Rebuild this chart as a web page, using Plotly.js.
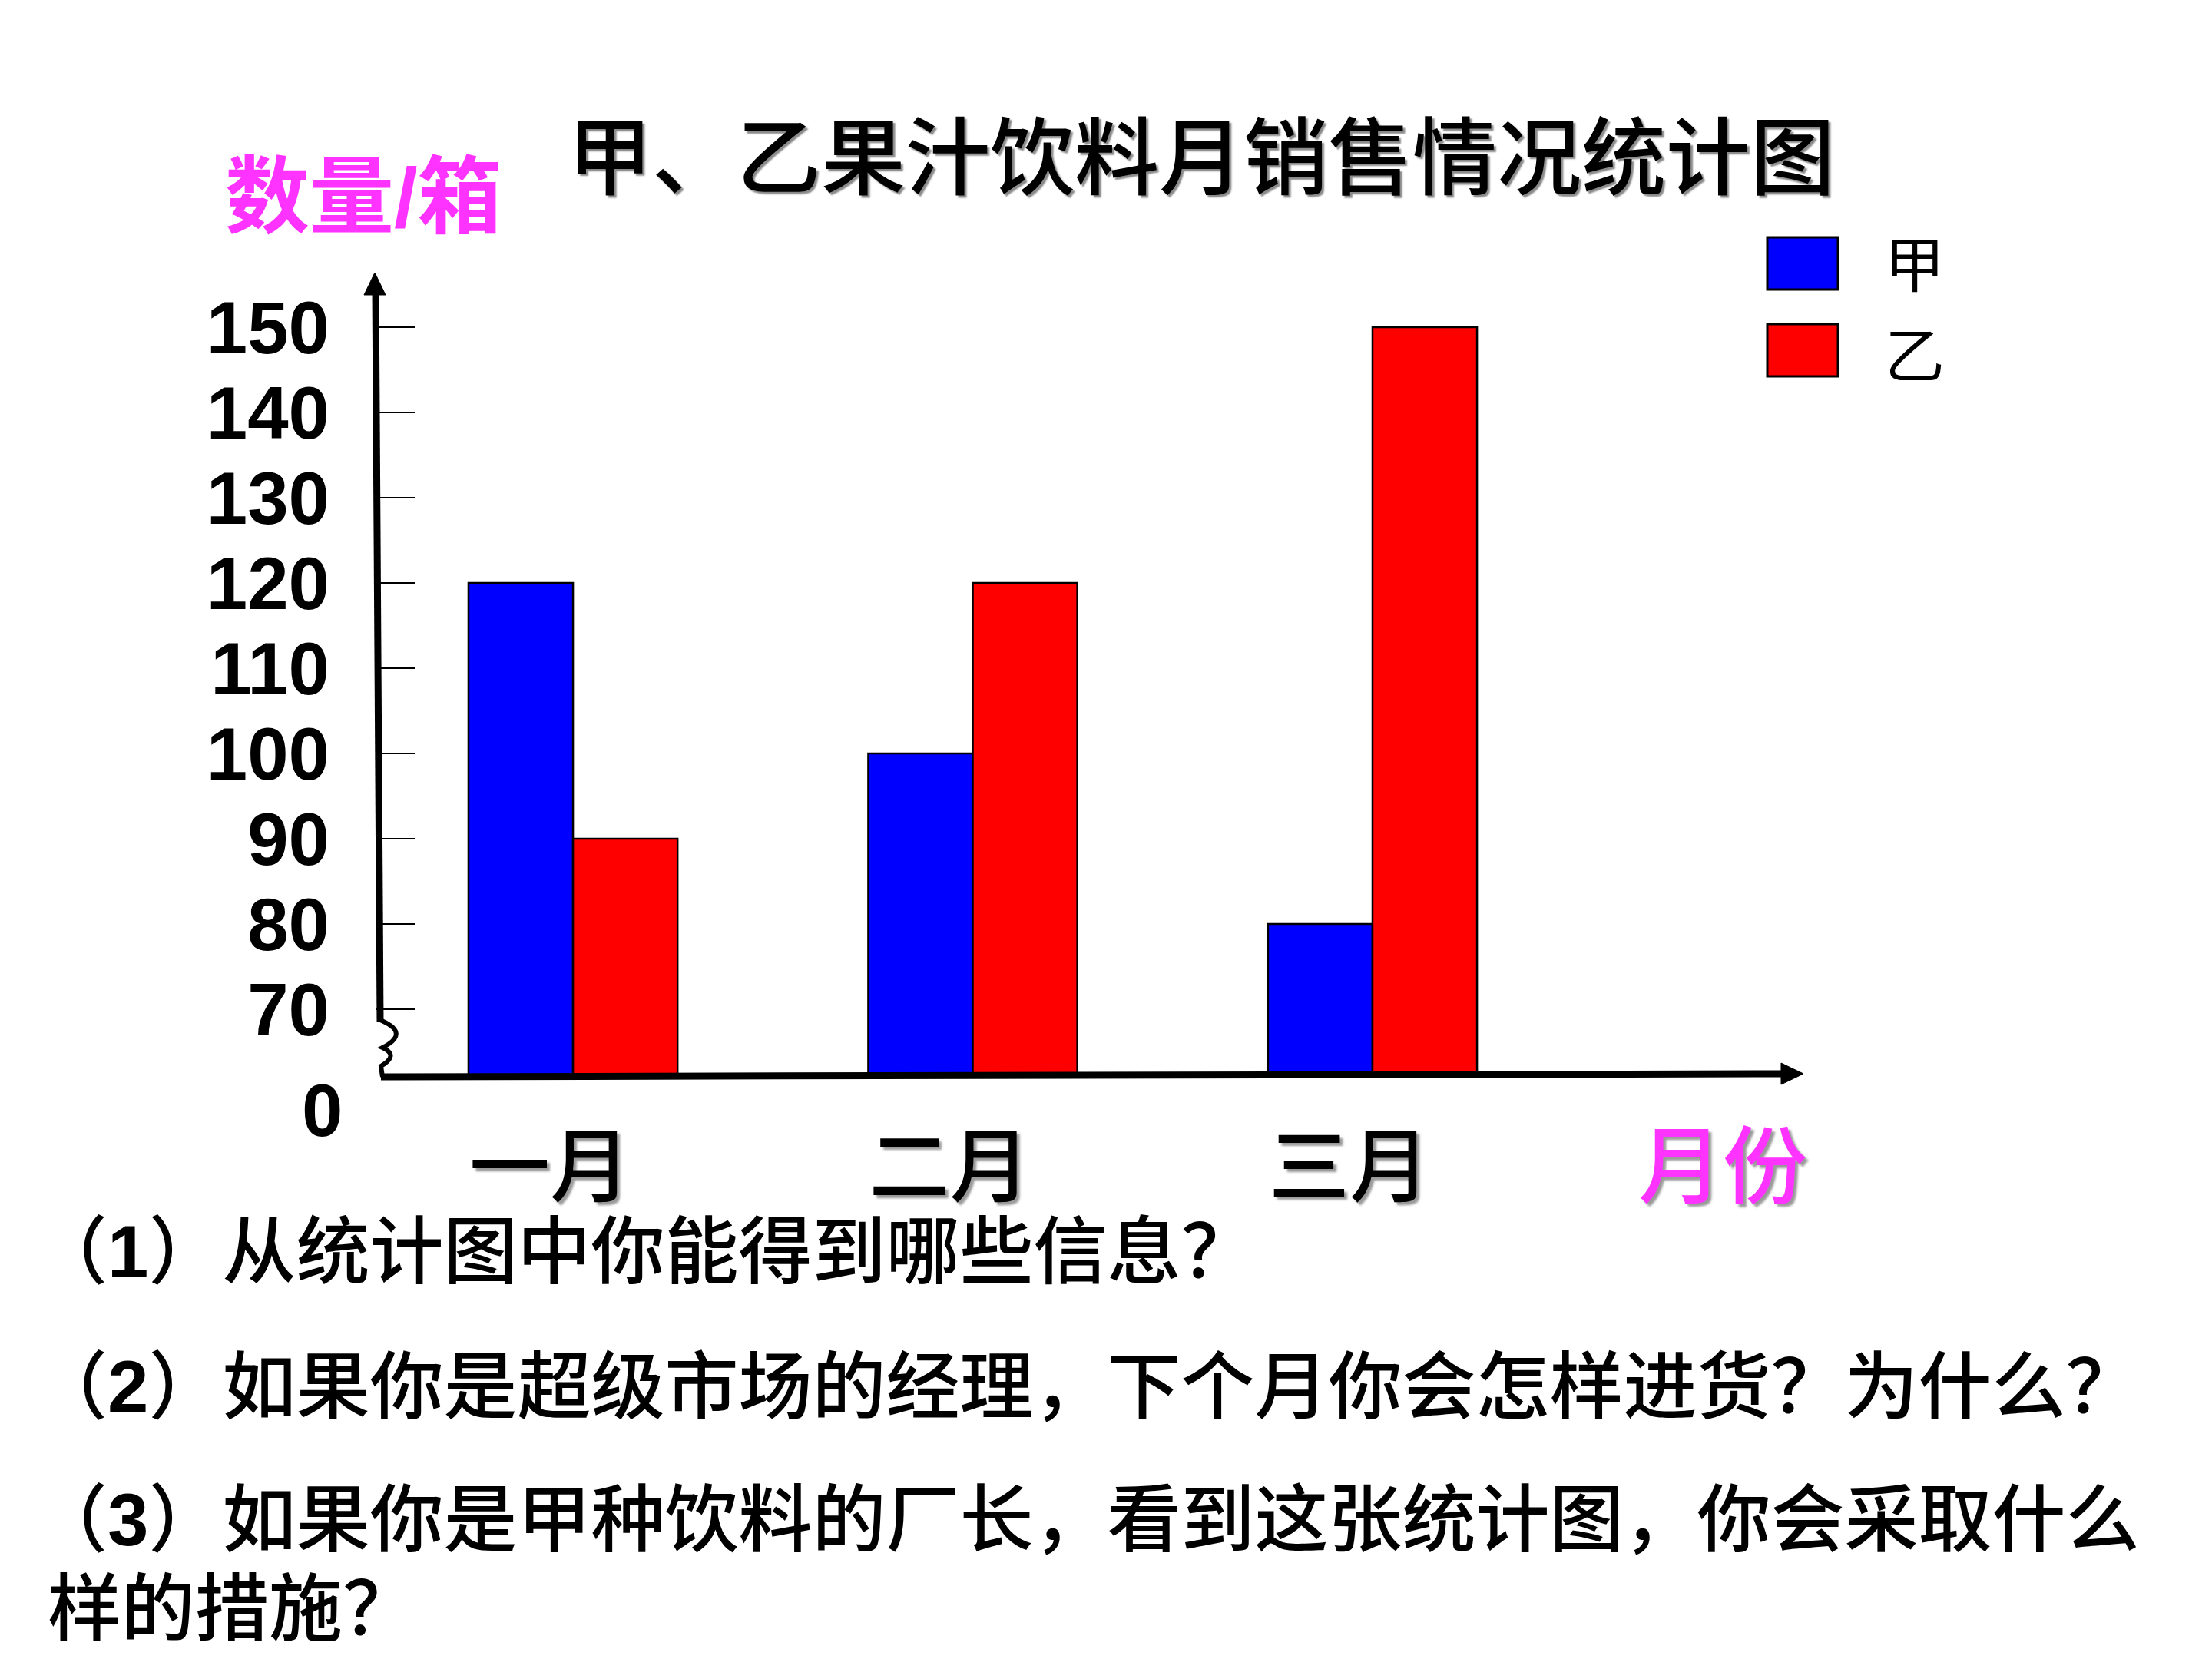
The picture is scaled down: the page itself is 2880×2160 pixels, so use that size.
<!DOCTYPE html>
<html>
<head>
<meta charset="utf-8">
<script src="https://cdn.plot.ly/plotly-3.0.1.min.js"></script>
<style>html,body{margin:0;padding:0;background:#ffffff;}</style>
</head>
<body>
<div id="chart" style="width:2880px;height:2160px;"></div>
<script>
// ---- data ----
const months = ['一月', '二月', '三月'];
const seriesNames = ['甲', '乙'];
const valuesJia = [120, 100, 80];
const valuesYi = [90, 120, 150];
const seriesColors = ['#0000ff', '#ff0000'];
const yTickVals = [70, 80, 90, 100, 110, 120, 130, 140, 150];
const yBreakLabel = '0';
const chartTitle = '甲、乙果汁饮料月销售情况统计图';
const yAxisLabel = '数量/箱';
const xAxisLabel = '月份';
const questions = [
  '（<b>1</b>）从统计图中你能得到哪些信息？',
  '（<b>2</b>）如果你是超级市场的经理，下个月你会怎样进货？为什么？',
  '（<b>3</b>）如果你是甲种饮料的厂长，看到这张统计图，你会采取什么',
  '样的措施？'
];

// ---- geometry (pixels) ----
const W = 2880, H = 2160;
const L = 490, R = 533, T = 355, B = 760;
const PW = W - L - R, PH = H - T - B;
const px = x => (x - L) / PW;
const py = y => (H - B - y) / PH;

const CJK = '"Noto Sans CJK SC", sans-serif';
const NUM = '"Liberation Sans", Arial, "Noto Sans CJK SC", sans-serif';
const magenta = '#ff33ff';
const shadowGray = '4px 4px 3px #9a9a9a';

const traces = [
  {type: 'bar', name: seriesNames[0], x: months, y: valuesJia,
   marker: {color: seriesColors[0], line: {color: '#000', width: 2.5}}},
  {type: 'bar', name: seriesNames[1], x: months, y: valuesYi,
   marker: {color: seriesColors[1], line: {color: '#000', width: 2.5}}}
];

function pathPx(pts, close) {
  let s = '';
  pts.forEach((p, i) => { s += (i ? ' L ' : 'M ') + px(p[0]).toFixed(5) + ',' + py(p[1]).toFixed(5); });
  return s + (close ? ' Z' : '');
}

const shapes = [
  // y axis line
  {type: 'path', xref: 'paper', yref: 'paper', path: pathPx([[489, 378], [495, 1330]]),
   line: {color: '#000', width: 9}},
  // y arrow head
  {type: 'path', xref: 'paper', yref: 'paper', path: pathPx([[488, 355], [474, 384], [502, 384]], true),
   fillcolor: '#000', line: {color: '#000', width: 1}},
  // break zigzag
  {type: 'path', xref: 'paper', yref: 'paper',
   path: 'M ' + px(495) + ',' + py(1328) +
         ' Q ' + px(535) + ',' + py(1345) + ' ' + px(498) + ',' + py(1364) +
         ' Q ' + px(520) + ',' + py(1374) + ' ' + px(496) + ',' + py(1388) +
         ' L ' + px(498) + ',' + py(1402),
   line: {color: '#000', width: 6}},
  // x axis line
  {type: 'path', xref: 'paper', yref: 'paper', path: pathPx([[496, 1402], [2325, 1398]]),
   line: {color: '#000', width: 9}},
  // x arrow head
  {type: 'path', xref: 'paper', yref: 'paper', path: pathPx([[2348, 1398], [2319, 1384], [2319, 1412]], true),
   fillcolor: '#000', line: {color: '#000', width: 1}},
  // legend swatches
  {type: 'rect', xref: 'paper', yref: 'paper', x0: px(2301), x1: px(2393), y0: py(309), y1: py(377),
   fillcolor: seriesColors[0], line: {color: '#000', width: 3}},
  {type: 'rect', xref: 'paper', yref: 'paper', x0: px(2301), x1: px(2393), y0: py(422), y1: py(490),
   fillcolor: seriesColors[1], line: {color: '#000', width: 3}}
];

function ann(text, x, y, font, xanchor) {
  return {text: text, xref: 'paper', yref: 'paper', x: px(x), y: py(y),
          xanchor: xanchor || 'center', yanchor: 'middle', showarrow: false, font: font};
}

const qFont = {family: NUM, size: 96, color: '#000', weight: 500};
const legFont = {family: CJK, size: 78, color: '#000'};

const annotations = [
  ann(chartTitle, 1564, 197, {family: CJK, size: 110, color: '#000', weight: 500, shadow: '3px 3px 2px #8a8a8a'}),
  ann(yAxisLabel, 473, 257, {family: NUM, size: 110, color: magenta, weight: 'bold'}),
  ann(xAxisLabel, 2243, 1510, {family: CJK, size: 110, color: magenta, weight: 500, shadow: shadowGray}),
  ann(yBreakLabel, 419, 1445, {family: NUM, size: 96, color: '#000', weight: 'bold'}),
  ann(seriesNames[0], 2493, 340, legFont),
  ann(seriesNames[1], 2493, 458, legFont),
  ann(questions[0], 42, 1629, qFont, 'left'),
  ann(questions[1], 42, 1805, qFont, 'left'),
  ann(questions[2], 42, 1978, qFont, 'left'),
  ann(questions[3], 60, 2094, qFont, 'left')
];

const layout = {
  width: W, height: H,
  margin: {l: L, r: R, t: T, b: B, pad: 0},
  paper_bgcolor: '#ffffff', plot_bgcolor: '#ffffff',
  showlegend: false,
  barmode: 'group', bargap: 0.477, bargroupgap: 0,
  xaxis: {
    type: 'category', range: [-0.492, 3.076], showgrid: false, zeroline: false, showline: false,
    ticks: '', ticklabelstandoff: 50, ticklabelshift: -30,
    tickfont: {family: CJK, size: 105, color: '#000', weight: 500, shadow: shadowGray},
    fixedrange: true
  },
  yaxis: {
    range: [62.25, 156.4], tickmode: 'array', tickvals: yTickVals,
    showgrid: false, zeroline: false, showline: false,
    ticks: 'inside', ticklen: 50, tickwidth: 2.5, tickcolor: '#000',
    ticklabelstandoff: 60,
    tickfont: {family: NUM, size: 96, color: '#000', weight: 'bold'},
    fixedrange: true
  },
  shapes: shapes,
  annotations: annotations
};

Plotly.newPlot('chart', traces, layout, {staticPlot: true, displayModeBar: false});
</script>
</body>
</html>
